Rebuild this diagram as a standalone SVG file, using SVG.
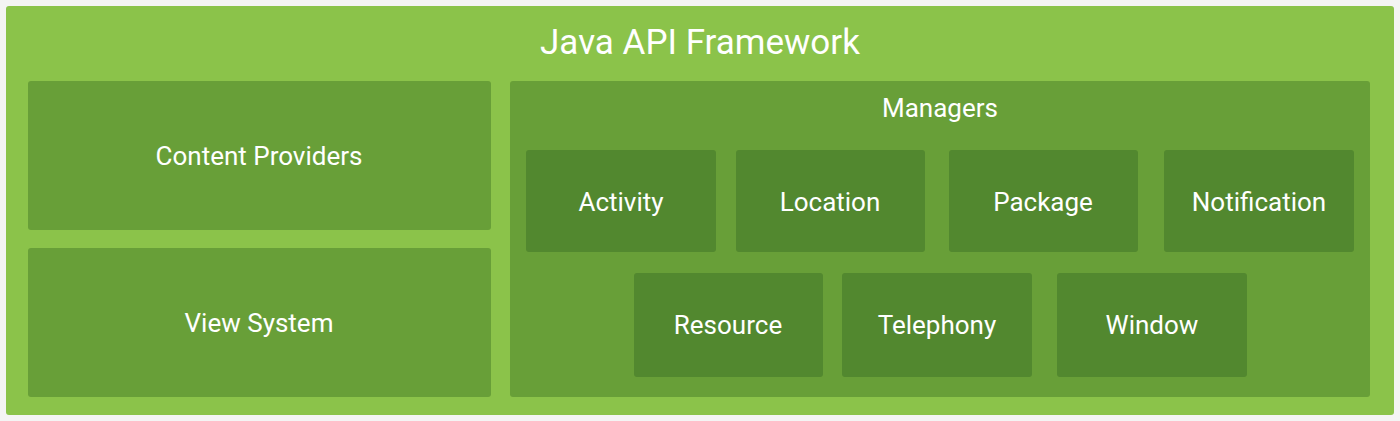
<svg xmlns="http://www.w3.org/2000/svg" width="1400" height="421" viewBox="0 0 1400 421">
<style>
text{font-family:Roboto,"Liberation Sans",sans-serif;fill:#fff;text-anchor:middle;dominant-baseline:central}
.m{fill:#689f38}.d{fill:#52882f}
.t{font-size:26px}
</style>
<rect width="1400" height="421" fill="#f4f4f4"/>
<g id="framework"><rect x="6" y="6" width="1388" height="409" rx="3" fill="#8bc34a"/><text x="700" y="42" font-size="35">Java API Framework</text></g>
<g id="content-providers"><rect class="m" x="28" y="81" width="463" height="149" rx="3"/><text class="t" x="259" y="156">Content Providers</text></g>
<g id="view-system"><rect class="m" x="28" y="248" width="463" height="149" rx="3"/><text class="t" x="259" y="323">View System</text></g>
<g id="managers"><rect class="m" x="510" y="81" width="860" height="316" rx="3"/><text class="t" x="940" y="108" font-size="28">Managers</text></g>
<g id="activity"><rect class="d" x="526" y="150" width="190" height="102" rx="3"/><text class="t" x="621" y="202">Activity</text></g>
<g id="location"><rect class="d" x="736" y="150" width="189" height="102" rx="3"/><text class="t" x="830" y="202">Location</text></g>
<g id="package"><rect class="d" x="949" y="150" width="189" height="102" rx="3"/><text class="t" x="1043" y="202">Package</text></g>
<g id="notification"><rect class="d" x="1164" y="150" width="190" height="102" rx="3"/><text class="t" x="1259" y="202">Notification</text></g>
<g id="resource"><rect class="d" x="634" y="273" width="189" height="104" rx="3"/><text class="t" x="728" y="325">Resource</text></g>
<g id="telephony"><rect class="d" x="842" y="273" width="190" height="104" rx="3"/><text class="t" x="937" y="325">Telephony</text></g>
<g id="window"><rect class="d" x="1057" y="273" width="190" height="104" rx="3"/><text class="t" x="1152" y="325">Window</text></g>
<g id="connectors"/>
</svg>
